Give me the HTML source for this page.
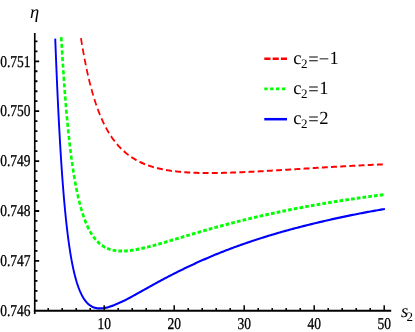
<!DOCTYPE html><html><head><meta charset="utf-8"><title>plot</title><style>html,body{margin:0;padding:0;background:#fff}#w{will-change:transform;width:415px;height:332px;background:#fff;overflow:hidden}svg{display:block;text-rendering:geometricPrecision}text{font-family:"Liberation Serif",serif;fill:#000}.t{stroke:#000;stroke-width:0.25px}</style></head><body><div id="w">
<svg width="415" height="332" viewBox="0 0 415 332">
<rect width="415" height="332" fill="#fff"/>
<g transform="scale(1,1.14)" fill="none">
<path d="M80.96,33.502 L81.17,34.683 L81.39,35.863 L81.61,37.042 L81.83,38.222 L82.06,39.400 L82.29,40.579 L82.52,41.756 L82.75,42.933 L82.99,44.110 L83.22,45.286 L83.47,46.462 L83.71,47.636 L83.96,48.811 L84.21,49.984 L84.46,51.157 L84.72,52.329 L84.98,53.501 L85.24,54.672 L85.51,55.842 L85.78,57.011 L86.05,58.179 L86.33,59.347 L86.61,60.513 L86.90,61.679 L87.19,62.843 L87.48,64.007 L87.78,65.169 L88.08,66.331 L88.38,67.491 L88.70,68.650 L89.01,69.808 L89.33,70.965 L89.65,72.120 L89.98,73.274 L90.32,74.426 L90.66,75.577 L91.00,76.726 L91.36,77.874 L91.71,79.020 L92.07,80.164 L92.44,81.306 L92.82,82.446 L93.20,83.584 L93.58,84.720 L93.98,85.854 L94.38,86.985 L94.78,88.114 L95.20,89.240 L95.62,90.363 L96.05,91.484 L96.49,92.601 L96.93,93.716 L97.39,94.827 L97.85,95.935 L98.32,97.039 L98.80,98.139 L99.28,99.235 L99.78,100.327 L100.29,101.415 L100.81,102.498 L101.33,103.576 L101.87,104.649 L102.42,105.716 L102.98,106.778 L103.55,107.834 L104.13,108.884 L104.72,109.927 L105.33,110.964 L105.94,111.993 L106.57,113.014 L107.22,114.028 L107.87,115.033 L108.54,116.030 L109.22,117.017 L109.92,117.995 L110.63,118.963 L111.35,119.921 L112.09,120.868 L112.84,121.803 L113.60,122.727 L114.38,123.638 L115.18,124.537 L115.99,125.422 L116.81,126.294 L117.65,127.152 L118.51,127.995 L119.37,128.824 L120.26,129.637 L121.15,130.434 L122.06,131.215 L122.99,131.980 L123.93,132.728 L124.88,133.459 L125.84,134.173 L126.82,134.869 L127.81,135.548 L128.81,136.209 L129.83,136.852 L130.85,137.478 L131.88,138.085 L132.93,138.675 L133.98,139.247 L135.05,139.801 L136.12,140.338 L137.20,140.858 L138.29,141.360 L139.39,141.846 L140.50,142.315 L141.61,142.767 L142.72,143.204 L143.85,143.625 L144.98,144.030 L146.11,144.421 L147.25,144.797 L148.40,145.158 L149.54,145.505 L150.70,145.839 L151.85,146.160 L153.01,146.467 L154.18,146.762 L155.34,147.045 L156.51,147.316 L157.68,147.576 L158.86,147.825 L160.03,148.063 L161.21,148.290 L162.39,148.508 L163.57,148.715 L164.76,148.913 L165.94,149.103 L167.13,149.283 L168.32,149.455 L169.51,149.618 L170.69,149.773 L171.89,149.921 L173.08,150.061 L174.27,150.195 L175.46,150.321 L176.66,150.440 L177.85,150.553 L179.05,150.659 L180.24,150.760 L181.44,150.854 L182.64,150.943 L183.83,151.027 L185.03,151.105 L186.23,151.178 L187.43,151.245 L188.63,151.309 L189.82,151.367 L191.02,151.421 L192.22,151.471 L193.42,151.516 L194.62,151.558 L195.82,151.595 L197.02,151.629 L198.22,151.659 L199.42,151.686 L200.62,151.709 L201.82,151.729 L203.02,151.745 L204.22,151.759 L205.42,151.769 L206.62,151.777 L207.82,151.781 L209.02,151.783 L210.22,151.783 L211.42,151.780 L212.62,151.774 L213.82,151.766 L215.02,151.756 L216.22,151.744 L217.42,151.729 L218.62,151.712 L219.82,151.694 L221.02,151.673 L222.22,151.651 L223.42,151.626 L224.62,151.600 L225.82,151.572 L227.02,151.543 L228.21,151.512 L229.41,151.479 L230.61,151.445 L231.81,151.410 L233.01,151.373 L234.21,151.335 L235.41,151.296 L236.61,151.255 L237.81,151.213 L239.01,151.170 L240.21,151.126 L241.41,151.081 L242.61,151.035 L243.81,150.987 L245.00,150.939 L246.20,150.890 L247.40,150.840 L248.60,150.789 L249.80,150.738 L251.00,150.685 L252.20,150.632 L253.40,150.578 L254.60,150.523 L255.79,150.468 L256.99,150.412 L258.19,150.355 L259.39,150.298 L260.59,150.240 L261.79,150.182 L262.99,150.123 L264.18,150.064 L265.38,150.004 L266.58,149.944 L267.78,149.883 L268.98,149.822 L270.18,149.761 L271.38,149.699 L272.57,149.637 L273.77,149.575 L274.97,149.512 L276.17,149.449 L277.37,149.386 L278.57,149.322 L279.76,149.259 L280.96,149.195 L282.16,149.131 L283.36,149.066 L284.56,149.002 L285.76,148.937 L286.95,148.873 L288.15,148.808 L289.35,148.743 L290.55,148.678 L291.75,148.613 L292.95,148.548 L294.14,148.482 L295.34,148.417 L296.54,148.352 L297.74,148.287 L298.94,148.222 L300.13,148.156 L301.33,148.091 L302.53,148.026 L303.73,147.961 L304.93,147.896 L306.13,147.831 L307.32,147.766 L308.52,147.701 L309.72,147.636 L310.92,147.572 L312.12,147.507 L313.32,147.443 L314.51,147.379 L315.71,147.315 L316.91,147.251 L318.11,147.187 L319.31,147.124 L320.50,147.060 L321.70,146.997 L322.90,146.934 L324.10,146.872 L325.30,146.809 L326.50,146.747 L327.70,146.685 L328.89,146.623 L330.09,146.561 L331.29,146.500 L332.49,146.439 L333.69,146.378 L334.89,146.318 L336.08,146.257 L337.28,146.197 L338.48,146.138 L339.68,146.078 L340.88,146.019 L342.08,145.961 L343.28,145.902 L344.47,145.844 L345.67,145.786 L346.87,145.729 L348.07,145.672 L349.27,145.615 L350.47,145.558 L351.67,145.502 L352.86,145.447 L354.06,145.391 L355.26,145.336 L356.46,145.282 L357.66,145.227 L358.86,145.174 L360.06,145.120 L361.26,145.067 L362.45,145.014 L363.65,144.962 L364.85,144.910 L366.05,144.859 L367.25,144.807 L368.45,144.757 L369.65,144.707 L370.85,144.657 L372.05,144.607 L373.25,144.558 L374.44,144.510 L375.64,144.462 L376.84,144.414 L378.04,144.367 L379.24,144.320 L380.44,144.274 L381.64,144.228 L382.84,144.182 L382.90,144.180" stroke="#f00" stroke-width="1.75" stroke-dasharray="5.9236 3.2580"/>
<path d="M61.26,32.623 L61.34,33.821 L61.41,35.018 L61.49,36.216 L61.57,37.413 L61.65,38.611 L61.73,39.808 L61.80,41.006 L61.88,42.203 L61.97,43.400 L62.05,44.598 L62.13,45.795 L62.21,46.992 L62.29,48.189 L62.38,49.386 L62.46,50.583 L62.55,51.780 L62.63,52.977 L62.72,54.174 L62.80,55.371 L62.89,56.568 L62.98,57.765 L63.07,58.961 L63.16,60.158 L63.25,61.355 L63.34,62.551 L63.43,63.748 L63.52,64.944 L63.62,66.140 L63.71,67.337 L63.80,68.533 L63.90,69.729 L64.00,70.925 L64.09,72.121 L64.19,73.317 L64.29,74.513 L64.39,75.709 L64.49,76.905 L64.59,78.101 L64.70,79.296 L64.80,80.492 L64.90,81.687 L65.01,82.882 L65.12,84.078 L65.22,85.273 L65.33,86.468 L65.44,87.663 L65.55,88.858 L65.66,90.053 L65.77,91.247 L65.89,92.442 L66.00,93.637 L66.12,94.831 L66.24,96.025 L66.35,97.219 L66.47,98.413 L66.59,99.607 L66.72,100.801 L66.84,101.995 L66.96,103.188 L67.09,104.382 L67.22,105.575 L67.35,106.768 L67.48,107.961 L67.61,109.154 L67.74,110.346 L67.88,111.539 L68.01,112.731 L68.15,113.923 L68.29,115.115 L68.43,116.307 L68.57,117.498 L68.72,118.690 L68.86,119.881 L69.01,121.072 L69.16,122.262 L69.31,123.453 L69.46,124.643 L69.62,125.833 L69.78,127.022 L69.94,128.212 L70.10,129.401 L70.26,130.590 L70.43,131.778 L70.59,132.966 L70.76,134.154 L70.94,135.342 L71.11,136.529 L71.29,137.716 L71.47,138.902 L71.65,140.088 L71.84,141.274 L72.03,142.459 L72.22,143.643 L72.41,144.828 L72.61,146.011 L72.81,147.194 L73.01,148.377 L73.22,149.559 L73.43,150.741 L73.64,151.922 L73.86,153.102 L74.08,154.281 L74.30,155.460 L74.53,156.638 L74.76,157.815 L75.00,158.992 L75.24,160.168 L75.49,161.342 L75.74,162.516 L75.99,163.688 L76.25,164.860 L76.52,166.030 L76.79,167.200 L77.06,168.368 L77.34,169.534 L77.63,170.699 L77.92,171.863 L78.22,173.025 L78.53,174.185 L78.84,175.344 L79.16,176.500 L79.49,177.654 L79.83,178.807 L80.17,179.956 L80.52,181.104 L80.88,182.248 L81.25,183.390 L81.63,184.528 L82.02,185.663 L82.42,186.795 L82.83,187.922 L83.25,189.046 L83.69,190.164 L84.13,191.278 L84.59,192.386 L85.07,193.489 L85.56,194.585 L86.06,195.674 L86.58,196.756 L87.12,197.830 L87.67,198.894 L88.24,199.949 L88.83,200.993 L89.45,202.025 L90.08,203.044 L90.73,204.050 L91.41,205.039 L92.11,206.012 L92.84,206.967 L93.60,207.901 L94.38,208.813 L95.18,209.700 L96.02,210.562 L96.88,211.396 L97.77,212.199 L98.69,212.969 L99.64,213.705 L100.62,214.404 L101.62,215.065 L102.64,215.686 L103.69,216.266 L104.77,216.804 L105.86,217.299 L106.97,217.752 L108.10,218.162 L109.24,218.530 L110.40,218.857 L111.56,219.145 L112.73,219.394 L113.92,219.606 L115.10,219.783 L116.29,219.927 L117.49,220.039 L118.69,220.122 L119.88,220.177 L121.08,220.206 L122.28,220.210 L123.48,220.191 L124.68,220.151 L125.88,220.091 L127.08,220.012 L128.27,219.916 L129.47,219.805 L130.66,219.678 L131.85,219.537 L133.04,219.383 L134.23,219.218 L135.42,219.041 L136.61,218.853 L137.79,218.657 L138.97,218.451 L140.15,218.236 L141.33,218.014 L142.51,217.785 L143.69,217.549 L144.86,217.307 L146.04,217.059 L147.21,216.806 L148.38,216.548 L149.55,216.285 L150.72,216.018 L151.89,215.747 L153.06,215.473 L154.23,215.195 L155.39,214.914 L156.56,214.630 L157.72,214.344 L158.89,214.055 L160.05,213.764 L161.22,213.471 L162.38,213.176 L163.54,212.880 L164.70,212.582 L165.87,212.283 L167.03,211.983 L168.19,211.681 L169.35,211.379 L170.51,211.076 L171.67,210.772 L172.83,210.468 L173.99,210.163 L175.16,209.858 L176.32,209.553 L177.48,209.248 L178.64,208.942 L179.80,208.636 L180.96,208.331 L182.12,208.025 L183.28,207.720 L184.44,207.415 L185.60,207.110 L186.76,206.806 L187.92,206.502 L189.08,206.199 L190.24,205.896 L191.40,205.594 L192.57,205.292 L193.73,204.991 L194.89,204.690 L196.05,204.391 L197.21,204.092 L198.38,203.793 L199.54,203.496 L200.70,203.200 L201.86,202.904 L203.03,202.609 L204.19,202.315 L205.36,202.022 L206.52,201.731 L207.68,201.440 L208.85,201.150 L210.01,200.861 L211.18,200.573 L212.34,200.286 L213.51,200.001 L214.67,199.716 L215.84,199.432 L217.01,199.150 L218.17,198.869 L219.34,198.589 L220.51,198.310 L221.67,198.032 L222.84,197.755 L224.01,197.480 L225.18,197.205 L226.35,196.932 L227.52,196.660 L228.68,196.390 L229.85,196.120 L231.02,195.852 L232.19,195.585 L233.36,195.319 L234.53,195.054 L235.70,194.791 L236.88,194.529 L238.05,194.268 L239.22,194.008 L240.39,193.750 L241.56,193.492 L242.73,193.236 L243.91,192.982 L245.08,192.728 L246.25,192.476 L247.43,192.225 L248.60,191.975 L249.77,191.726 L250.95,191.479 L252.12,191.233 L253.30,190.988 L254.47,190.745 L255.65,190.502 L256.82,190.261 L258.00,190.021 L259.18,189.782 L260.35,189.545 L261.53,189.309 L262.71,189.074 L263.88,188.840 L265.06,188.607 L266.24,188.376 L267.41,188.146 L268.59,187.917 L269.77,187.689 L270.95,187.462 L272.13,187.237 L273.31,187.013 L274.49,186.790 L275.67,186.568 L276.84,186.347 L278.02,186.128 L279.20,185.910 L280.38,185.692 L281.56,185.477 L282.75,185.262 L283.93,185.048 L285.11,184.836 L286.29,184.624 L287.47,184.414 L288.65,184.205 L289.83,183.997 L291.02,183.790 L292.20,183.585 L293.38,183.380 L294.56,183.177 L295.75,182.974 L296.93,182.773 L298.11,182.573 L299.30,182.374 L300.48,182.176 L301.66,181.979 L302.85,181.784 L304.03,181.589 L305.22,181.395 L306.40,181.203 L307.58,181.011 L308.77,180.821 L309.95,180.632 L311.14,180.443 L312.32,180.256 L313.51,180.070 L314.70,179.885 L315.88,179.701 L317.07,179.517 L318.25,179.335 L319.44,179.154 L320.63,178.974 L321.81,178.795 L323.00,178.617 L324.19,178.440 L325.37,178.264 L326.56,178.089 L327.75,177.915 L328.94,177.742 L330.12,177.570 L331.31,177.399 L332.50,177.228 L333.69,177.059 L334.87,176.891 L336.06,176.724 L337.25,176.557 L338.44,176.392 L339.63,176.227 L340.82,176.064 L342.01,175.901 L343.20,175.739 L344.38,175.579 L345.57,175.419 L346.76,175.260 L347.95,175.102 L349.14,174.945 L350.33,174.788 L351.52,174.633 L352.71,174.479 L353.90,174.325 L355.09,174.172 L356.28,174.020 L357.47,173.869 L358.66,173.719 L359.85,173.570 L361.05,173.422 L362.24,173.274 L363.43,173.128 L364.62,172.982 L365.81,172.837 L367.00,172.693 L368.19,172.549 L369.38,172.407 L370.58,172.265 L371.77,172.124 L372.96,171.984 L374.15,171.845 L375.34,171.707 L376.53,171.569 L377.73,171.432 L378.92,171.296 L380.11,171.161 L381.30,171.027 L382.50,170.893 L383.40,170.793" stroke="#0f0" stroke-width="2.6" stroke-dasharray="3.6760 2.1150"/>
<path d="M55.24,33.891 L55.29,35.090 L55.34,36.288 L55.39,37.487 L55.44,38.686 L55.50,39.885 L55.55,41.084 L55.60,42.283 L55.66,43.482 L55.71,44.680 L55.76,45.879 L55.82,47.078 L55.87,48.277 L55.92,49.476 L55.98,50.674 L56.03,51.873 L56.09,53.072 L56.14,54.270 L56.20,55.469 L56.26,56.668 L56.31,57.867 L56.37,59.065 L56.43,60.264 L56.48,61.463 L56.54,62.661 L56.60,63.860 L56.65,65.058 L56.71,66.257 L56.77,67.456 L56.83,68.654 L56.89,69.853 L56.95,71.051 L57.01,72.250 L57.07,73.448 L57.13,74.647 L57.19,75.845 L57.25,77.044 L57.31,78.242 L57.37,79.440 L57.44,80.639 L57.50,81.837 L57.56,83.036 L57.62,84.234 L57.69,85.432 L57.75,86.631 L57.82,87.829 L57.88,89.027 L57.95,90.225 L58.01,91.424 L58.08,92.622 L58.14,93.820 L58.21,95.018 L58.28,96.216 L58.34,97.414 L58.41,98.612 L58.48,99.810 L58.55,101.008 L58.62,102.206 L58.69,103.404 L58.76,104.602 L58.83,105.800 L58.90,106.998 L58.97,108.196 L59.04,109.394 L59.12,110.592 L59.19,111.789 L59.26,112.987 L59.34,114.185 L59.41,115.382 L59.49,116.580 L59.56,117.778 L59.64,118.975 L59.72,120.173 L59.80,121.370 L59.87,122.568 L59.95,123.765 L60.03,124.962 L60.11,126.160 L60.19,127.357 L60.27,128.554 L60.36,129.752 L60.44,130.949 L60.52,132.146 L60.61,133.343 L60.69,134.540 L60.78,135.737 L60.86,136.934 L60.95,138.131 L61.04,139.327 L61.12,140.524 L61.21,141.721 L61.30,142.917 L61.39,144.114 L61.49,145.311 L61.58,146.507 L61.67,147.703 L61.77,148.900 L61.86,150.096 L61.96,151.292 L62.05,152.488 L62.15,153.684 L62.25,154.880 L62.35,156.076 L62.45,157.272 L62.55,158.467 L62.65,159.663 L62.76,160.859 L62.86,162.054 L62.97,163.249 L63.08,164.445 L63.18,165.640 L63.29,166.835 L63.40,168.030 L63.51,169.224 L63.63,170.419 L63.74,171.614 L63.86,172.808 L63.97,174.002 L64.09,175.196 L64.21,176.390 L64.33,177.584 L64.46,178.778 L64.58,179.972 L64.70,181.165 L64.83,182.358 L64.96,183.551 L65.09,184.744 L65.22,185.937 L65.36,187.130 L65.49,188.322 L65.63,189.514 L65.77,190.706 L65.91,191.898 L66.05,193.089 L66.20,194.280 L66.35,195.471 L66.49,196.662 L66.65,197.852 L66.80,199.042 L66.96,200.232 L67.12,201.422 L67.28,202.611 L67.44,203.799 L67.61,204.988 L67.78,206.176 L67.95,207.363 L68.12,208.551 L68.30,209.737 L68.48,210.924 L68.67,212.109 L68.85,213.295 L69.04,214.479 L69.24,215.664 L69.44,216.847 L69.64,218.030 L69.84,219.212 L70.06,220.394 L70.27,221.574 L70.49,222.754 L70.71,223.933 L70.94,225.111 L71.18,226.288 L71.41,227.464 L71.66,228.639 L71.91,229.812 L72.17,230.985 L72.43,232.155 L72.70,233.325 L72.97,234.492 L73.26,235.658 L73.55,236.822 L73.85,237.984 L74.16,239.144 L74.48,240.301 L74.80,241.456 L75.14,242.607 L75.49,243.756 L75.85,244.900 L76.22,246.041 L76.61,247.178 L77.00,248.310 L77.42,249.437 L77.85,250.558 L78.29,251.672 L78.75,252.779 L79.24,253.877 L79.74,254.966 L80.27,256.045 L80.82,257.111 L81.39,258.163 L82.00,259.200 L82.63,260.218 L83.30,261.215 L84.01,262.187 L84.75,263.131 L85.53,264.042 L86.35,264.915 L87.22,265.745 L88.13,266.524 L89.09,267.247 L90.09,267.907 L91.13,268.498 L92.21,269.016 L93.33,269.458 L94.47,269.821 L95.64,270.107 L96.82,270.318 L98.01,270.456 L99.21,270.527 L100.41,270.535 L101.61,270.487 L102.80,270.388 L103.99,270.243 L105.18,270.057 L106.36,269.834 L107.53,269.579 L108.70,269.295 L109.86,268.984 L111.01,268.651 L112.16,268.297 L113.30,267.924 L114.43,267.536 L115.56,267.132 L116.69,266.716 L117.81,266.291 L118.93,265.858 L120.05,265.417 L121.16,264.968 L122.27,264.512 L123.37,264.048 L124.48,263.577 L125.58,263.099 L126.68,262.613 L127.77,262.120 L128.86,261.620 L129.95,261.112 L131.03,260.596 L132.11,260.075 L133.19,259.552 L134.27,259.028 L135.35,258.502 L136.43,257.974 L137.51,257.446 L138.58,256.917 L139.66,256.387 L140.74,255.858 L141.81,255.328 L142.89,254.798 L143.97,254.268 L145.04,253.738 L146.12,253.209 L147.20,252.681 L148.28,252.153 L149.35,251.626 L150.43,251.101 L151.51,250.576 L152.59,250.052 L153.67,249.530 L154.75,249.009 L155.83,248.489 L156.92,247.971 L158.00,247.454 L159.08,246.939 L160.17,246.425 L161.25,245.913 L162.34,245.403 L163.43,244.895 L164.51,244.388 L165.60,243.884 L166.69,243.381 L167.78,242.881 L168.88,242.382 L169.97,241.885 L171.06,241.391 L172.15,240.898 L173.25,240.408 L174.35,239.919 L175.44,239.433 L176.54,238.949 L177.64,238.466 L178.74,237.986 L179.84,237.508 L180.94,237.031 L182.04,236.557 L183.15,236.085 L184.25,235.614 L185.36,235.146 L186.46,234.680 L187.57,234.216 L188.68,233.754 L189.78,233.295 L190.89,232.837 L192.00,232.382 L193.12,231.928 L194.23,231.477 L195.34,231.028 L196.45,230.582 L197.57,230.137 L198.68,229.695 L199.80,229.255 L200.92,228.817 L202.04,228.381 L203.15,227.948 L204.27,227.517 L205.40,227.088 L206.52,226.662 L207.64,226.237 L208.76,225.815 L209.89,225.396 L211.01,224.978 L212.14,224.563 L213.26,224.150 L214.39,223.740 L215.52,223.331 L216.65,222.925 L217.78,222.522 L218.91,222.121 L220.04,221.722 L221.18,221.325 L222.31,220.931 L223.44,220.539 L224.58,220.149 L225.71,219.762 L226.85,219.377 L227.99,218.994 L229.13,218.614 L230.26,218.236 L231.40,217.861 L232.54,217.487 L233.69,217.116 L234.83,216.747 L235.97,216.380 L237.11,216.015 L238.26,215.653 L239.40,215.293 L240.55,214.934 L241.69,214.578 L242.84,214.224 L243.99,213.872 L245.14,213.523 L246.28,213.175 L247.43,212.829 L248.58,212.485 L249.73,212.144 L250.88,211.804 L252.04,211.467 L253.19,211.131 L254.34,210.797 L255.49,210.466 L256.65,210.136 L257.80,209.808 L258.96,209.482 L260.11,209.159 L261.27,208.837 L262.42,208.516 L263.58,208.198 L264.74,207.882 L265.90,207.567 L267.06,207.254 L268.21,206.944 L269.37,206.634 L270.53,206.327 L271.69,206.022 L272.86,205.718 L274.02,205.416 L275.18,205.116 L276.34,204.817 L277.50,204.520 L278.67,204.225 L279.83,203.932 L280.99,203.640 L282.16,203.350 L283.32,203.062 L284.49,202.775 L285.65,202.490 L286.82,202.207 L287.99,201.925 L289.15,201.644 L290.32,201.366 L291.49,201.088 L292.66,200.813 L293.82,200.539 L294.99,200.266 L296.16,199.995 L297.33,199.726 L298.50,199.458 L299.67,199.191 L300.84,198.926 L302.01,198.663 L303.18,198.400 L304.36,198.140 L305.53,197.880 L306.70,197.621 L307.87,197.364 L309.04,197.108 L310.22,196.854 L311.39,196.600 L312.56,196.348 L313.74,196.097 L314.91,195.848 L316.08,195.599 L317.26,195.352 L318.43,195.106 L319.61,194.862 L320.78,194.618 L321.96,194.376 L323.13,194.136 L324.31,193.896 L325.48,193.658 L326.66,193.421 L327.84,193.186 L329.01,192.951 L330.19,192.718 L331.37,192.487 L332.55,192.257 L333.72,192.028 L334.90,191.800 L336.08,191.574 L337.26,191.349 L338.44,191.125 L339.62,190.903 L340.80,190.682 L341.98,190.463 L343.16,190.245 L344.34,190.028 L345.52,189.811 L346.70,189.596 L347.88,189.382 L349.06,189.169 L350.24,188.957 L351.42,188.746 L352.60,188.536 L353.79,188.327 L354.97,188.119 L356.15,187.912 L357.33,187.707 L358.51,187.503 L359.70,187.300 L360.88,187.098 L362.06,186.897 L363.25,186.698 L364.43,186.500 L365.61,186.304 L366.80,186.109 L367.98,185.915 L369.17,185.723 L370.35,185.533 L371.54,185.343 L372.72,185.156 L373.91,184.970 L375.09,184.785 L376.28,184.602 L377.47,184.421 L378.65,184.241 L379.84,184.063 L381.03,183.886 L382.21,183.711 L383.40,183.537 L384.59,183.364 L384.90,183.319" stroke="#00f" stroke-width="1.9"/>
<path d="M34.75,28.95 V275.53 M33.80,272.588 H391.2" stroke="#000" stroke-width="1.65"/>
<path d="M48.20,272.588 v-2.45 M62.20,272.588 v-2.45 M76.20,272.588 v-2.45 M90.20,272.588 v-2.45 M104.20,272.588 v-4.90 M118.20,272.588 v-2.45 M132.20,272.588 v-2.45 M146.20,272.588 v-2.45 M160.20,272.588 v-2.45 M174.20,272.588 v-4.90 M188.20,272.588 v-2.45 M202.20,272.588 v-2.45 M216.20,272.588 v-2.45 M230.20,272.588 v-2.45 M244.20,272.588 v-4.90 M258.20,272.588 v-2.45 M272.20,272.588 v-2.45 M286.20,272.588 v-2.45 M300.20,272.588 v-2.45 M314.20,272.588 v-4.90 M328.20,272.588 v-2.45 M342.20,272.588 v-2.45 M356.20,272.588 v-2.45 M370.20,272.588 v-2.45 M384.20,272.588 v-4.90" stroke="#000" stroke-width="1.5"/>
<path d="M34.75,263.835 h2.7 M34.75,255.082 h2.7 M34.75,246.330 h2.7 M34.75,237.577 h2.7 M34.75,228.825 h4.4 M34.75,220.072 h2.7 M34.75,211.319 h2.7 M34.75,202.567 h2.7 M34.75,193.814 h2.7 M34.75,185.061 h4.4 M34.75,176.309 h2.7 M34.75,167.556 h2.7 M34.75,158.804 h2.7 M34.75,150.051 h2.7 M34.75,141.298 h4.4 M34.75,132.546 h2.7 M34.75,123.793 h2.7 M34.75,115.040 h2.7 M34.75,106.288 h2.7 M34.75,97.535 h4.4 M34.75,88.782 h2.7 M34.75,80.030 h2.7 M34.75,71.277 h2.7 M34.75,62.525 h2.7 M34.75,53.772 h4.4 M34.75,45.019 h2.7 M34.75,36.267 h2.7" stroke="#000" stroke-width="1.6"/>
</g>
<text transform="translate(104.20,329.0) scale(1,1.22)" class="t" font-size="13.5" text-anchor="middle">10</text>
<text transform="translate(174.20,329.0) scale(1,1.22)" class="t" font-size="13.5" text-anchor="middle">20</text>
<text transform="translate(244.20,329.0) scale(1,1.22)" class="t" font-size="13.5" text-anchor="middle">30</text>
<text transform="translate(314.20,329.0) scale(1,1.22)" class="t" font-size="13.5" text-anchor="middle">40</text>
<text transform="translate(384.20,329.0) scale(1,1.22)" class="t" font-size="13.5" text-anchor="middle">50</text>
<text transform="translate(30.5,315.95) scale(1,1.22)" class="t" font-size="13.5" text-anchor="end">0.746</text>
<text transform="translate(30.5,266.06) scale(1,1.22)" class="t" font-size="13.5" text-anchor="end">0.747</text>
<text transform="translate(30.5,216.17) scale(1,1.22)" class="t" font-size="13.5" text-anchor="end">0.748</text>
<text transform="translate(30.5,166.28) scale(1,1.22)" class="t" font-size="13.5" text-anchor="end">0.749</text>
<text transform="translate(30.5,116.39) scale(1,1.22)" class="t" font-size="13.5" text-anchor="end">0.750</text>
<text transform="translate(30.5,66.50) scale(1,1.22)" class="t" font-size="13.5" text-anchor="end">0.751</text>
<text x="30" y="18.3" font-size="18.5" font-style="italic">η</text>
<text x="401" y="316.5" font-size="18.5" font-style="italic">s<tspan font-size="13" font-style="normal" dx="-1.6" dy="4">2</tspan></text>
<path d="M264.3,58.8 H287" stroke="#f00" stroke-width="2.4" stroke-dasharray="6.2 2.1" fill="none"/>
<path d="M264.3,88.9 H287" stroke="#0f0" stroke-width="2.7" stroke-dasharray="3.3 2.55" fill="none"/>
<path d="M264.3,119.2 H287" stroke="#00f" stroke-width="2.5" fill="none"/>
<text x="293.3" y="64" font-size="18.5">c<tspan font-size="13" dx="-0.6" dy="3.9">2</tspan><tspan dx="0.9" dy="-3.3">=−</tspan><tspan dx="0.4" dy="-0.6">1</tspan></text>
<text x="293.3" y="94" font-size="18.5">c<tspan font-size="13" dx="-0.6" dy="3.9">2</tspan><tspan dx="0.9" dy="-3.3">=</tspan><tspan dx="0.4" dy="-0.6">1</tspan></text>
<text x="293.3" y="124" font-size="18.5">c<tspan font-size="13" dx="-0.6" dy="3.9">2</tspan><tspan dx="0.9" dy="-3.3">=</tspan><tspan dx="0.4" dy="-0.6">2</tspan></text>
</svg></div></body></html>
